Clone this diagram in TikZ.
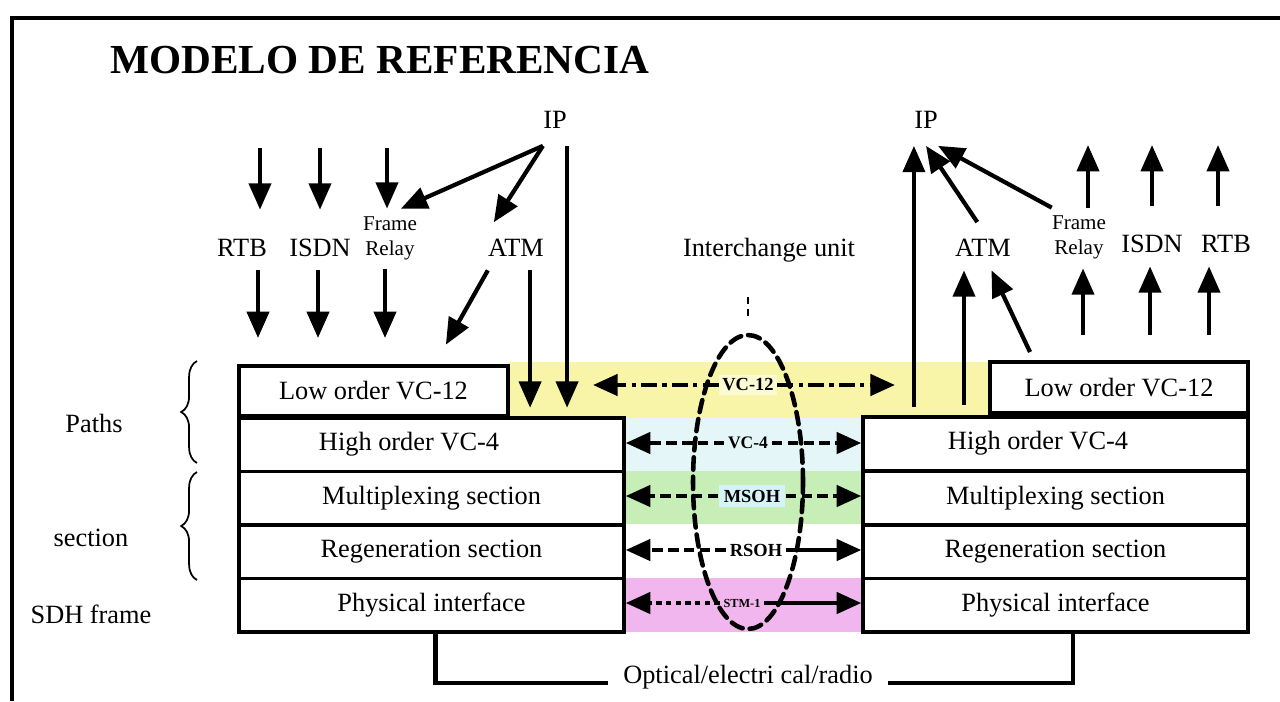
\documentclass[tikz,border=0pt]{standalone}
\usepackage{fontspec}
\setmainfont{Liberation Serif}
\usetikzlibrary{arrows.meta,calc,shapes.geometric,decorations.pathreplacing}

\definecolor{bandyellow}{RGB}{248,245,168}
\definecolor{bandcyan}{RGB}{228,246,248}
\definecolor{bandgreen}{RGB}{200,238,184}
\definecolor{bandpink}{RGB}{242,182,238}
\definecolor{tagcyan}{RGB}{214,244,248}

\begin{document}
\begin{tikzpicture}[x=0.02cm, y=-0.02cm, font=\fontsize{15}{18}\selectfont,
    layer/.style={draw, line width=2pt, inner sep=0pt, minimum width=7.7cm, minimum height=1.07cm},
    lowbox/.style={layer, minimum height=1cm},
    proto/.style={inner sep=0pt, anchor=base, text height=0.92cm, text depth=0.28cm},
    flow/.style={line width=2.4pt, -{Triangle[length=15pt,width=12.5pt]}},
    oh/.style={line width=2.4pt, -{Triangle[length=14pt,width=12pt]}},
    ohdash/.style={oh, dash pattern=on 6pt off 3pt},
    ohdot/.style={oh, dash pattern=on 3pt off 2.5pt},
    ohmix/.style={oh, dash pattern=on 9pt off 3pt on 2.5pt off 3pt},
    tag/.style={font=\bfseries\fontsize{10.5}{12}\selectfont, inner sep=2pt},
    ring/.style={draw, ellipse, line width=2.6pt, dash pattern=on 7pt off 4pt, line cap=round, inner sep=0pt},
    wire/.style={line width=2.4pt}
]
\useasboundingbox (0,0) rectangle (1280,701);

% frame and title
\draw[line width=2.6pt] (12,701) -- (12,18) -- (1280,18);
\node[anchor=base west, inner sep=0pt, font=\bfseries\fontsize{23.5}{28}\selectfont] (title) at (110,73) {MODELO DE REFERENCIA};

% coloured bands between the stacks
\fill[bandyellow] (508,362) rectangle (990,418);
\fill[bandcyan] (625,418) rectangle (862,471);
\fill[bandgreen] (625,471) rectangle (862,524);
\fill[bandpink] (625,578) rectangle (862,632);

% left stack
\node[lowbox, minimum width=5.38cm] (LowL) at (373.5,391) {Low order VC-12};
\node[layer] (Lvc4) at (431.5,444.5) {High order VC-4\hspace*{0.9cm}};
\node[layer] (Lmux) at (431.5,498) {Multiplexing section};
\node[layer] (Lreg) at (431.5,551.5) {Regeneration section};
\node[layer] (Lphy) at (431.5,605) {Physical interface};

% right stack
\node[lowbox, minimum width=5.16cm, minimum height=1.02cm] (RLow) at (1119,387.5) {Low order VC-12};
\node[layer] (Rvc4) at (1055.5,443.5) {High order VC-4\hspace*{0.7cm}};
\node[layer] (Rmux) at (1055.5,498) {Multiplexing section};
\node[layer] (Rreg) at (1055.5,551.5) {Regeneration section};
\node[layer] (Rphy) at (1055.5,605) {Physical interface};

% layer names and braces
\node (pathsT) at (94,423) {Paths};
\node (sectT) at (91,538) {section};
\node (sdhT) at (91,614) {SDH frame};
\draw[line width=1pt, decorate, decoration={brace, amplitude=9pt}] (197,463) -- (197,361);
\draw[line width=1pt, decorate, decoration={brace, amplitude=9pt}] (197,580) -- (197,472);

% services, left side
\node[inner sep=0pt, anchor=base, text depth=0.35cm] (IPl) at (555,128) {IP};
\node[proto] (rtbL) at (242,256) {RTB};
\node[proto] (isdnL) at (320,256) {ISDN};
\node[proto, font=\fontsize{12}{14}\selectfont] (frL) at (390,255) {\begin{tabular}[b]{@{}c@{}}Frame\\Relay\end{tabular}};
\node[proto] (atmL) at (516,256) {ATM};

\foreach \lab/\x in {rtbL/260, isdnL/320, frL/387}{
  \coordinate (\lab-src) at (\x,148);
  \draw[flow] (\lab-src) -- (\lab-src |- \lab.north);
}
\foreach \lab/\x in {rtbL/258, isdnL/318, frL/385}{
  \coordinate (\lab-dst) at (\x,338);
  \draw[flow] (\lab-dst |- \lab.south) -- (\lab-dst);
}
\draw[flow] (IPl.south west) -- ($(frL.north)!0.4!(frL.north east)$);
\draw[flow, shorten >=-0.3cm] (IPl.south west) -- ($(atmL.north)!0.5!(atmL.north west)$);
\draw[flow, shorten >=0.2cm] (IPl.south east) -- (IPl.south east |- LowL.south);
\coordinate (atmDropL) at ($(atmL.south)!0.5!(atmL.south east)$);
\draw[flow, shorten >=0.2cm] (atmDropL) -- (atmDropL |- LowL.south);
\draw[flow, shorten >=0.45cm] (atmL.south west) -- ($(LowL.north)!0.45!(LowL.north east)$);

% services, right side
\node[inner sep=0pt, anchor=base, text depth=0.35cm] (IPr) at (926,128) {IP};
\node[proto] (atmR) at (983,256) {ATM};
\node[proto, font=\fontsize{12}{14}\selectfont] (frR) at (1079,254) {\begin{tabular}[b]{@{}c@{}}Frame\\Relay\end{tabular}};
\node[proto] (isdnR) at (1152,252) {ISDN};
\node[proto] (rtbR) at (1226,252) {RTB};

\foreach \lab/\x in {frR/1088, isdnR/1152, rtbR/1218}{
  \coordinate (\lab-dst) at (\x,145);
  \draw[flow] (\lab-dst |- \lab.north) -- (\lab-dst);
}
\foreach \lab/\x in {frR/1083, isdnR/1150, rtbR/1209}{
  \coordinate (\lab-src) at (\x,335);
  \draw[flow] (\lab-src) -- (\lab-src |- \lab.south);
}
\draw[flow, shorten <=0.16cm] (IPr.south west |- RLow.south) -- (IPr.south west);
\draw[flow, shorten <=-0.3cm] ($(atmR.north)!0.5!(atmR.north west)$) -- (IPr.south);
\draw[flow] (frR.north west) -- (IPr.south east);
\coordinate (atmRiseR) at (964,405);
\draw[flow] (atmRiseR) -- (atmRiseR |- atmR.south);
\coordinate (atmSlopeR) at (1030,352);
\draw[flow] (atmSlopeR) -- ($(atmR.south)!0.3!(atmR.south east)$);

% overheads exchanged between the two ends
\node[tag, fill=bandyellow!50!white] (tVC12) at (748,385) {VC-12};
\node[tag, font=\bfseries\fontsize{10}{12}\selectfont, fill=bandcyan] (tVC4) at (748,443) {VC-4};
\node[tag, fill=tagcyan, inner sep=3pt] (tMSOH) at (752,496) {MSOH};
\node[tag] (tRSOH) at (756,550) {RSOH};
\node[tag, font=\bfseries\fontsize{7}{8}\selectfont, fill=bandpink] (tSTM) at (742,603) {STM-1};

\coordinate (vc12W) at (593,385);
\coordinate (vc12E) at (895,385);
\draw[ohmix] (tVC12.west) -- (vc12W);
\draw[ohmix] (tVC12.east) -- (vc12E);
\draw[ohdash] (tVC4.west) -- (tVC4 -| Lvc4.east);
\draw[ohdash] (tVC4.east) -- (tVC4 -| Rvc4.west);
\draw[ohdash] (tMSOH.west) -- (tMSOH -| Lmux.east);
\draw[ohdash] (tMSOH.east) -- (tMSOH -| Rmux.west);
\draw[ohdash] (tRSOH.west) -- (tRSOH -| Lreg.east);
\draw[oh] (tRSOH.east) -- (tRSOH -| Rreg.west);
\draw[ohdot] (tSTM.west) -- (tSTM -| Lphy.east);
\draw[oh] (tSTM.east) -- (tSTM -| Rphy.west);

% interchange unit
\node[ring, minimum width=2.2cm, minimum height=5.88cm] (iu) at (748,482) {};
\node[anchor=base, inner sep=0pt] (iuL) at (769,256) {Interchange unit};
\draw[line width=1.5pt, dash pattern=on 4pt off 3pt, shorten <=0.7cm, shorten >=0.26cm] (iu.north |- iuL.south) -- (iu.north);

% physical medium
\node[anchor=base, inner xsep=0.3cm, inner ysep=0pt] (optL) at (748,683) {Optical/electri cal/radio};
\draw[wire] ($(Lphy.south)!0.02!(Lphy.south east)$) |- (optL.base west);
\draw[wire] ($(Rphy.south)!0.09!(Rphy.south east)$) |- (optL.base east);
\end{tikzpicture}
\end{document}
